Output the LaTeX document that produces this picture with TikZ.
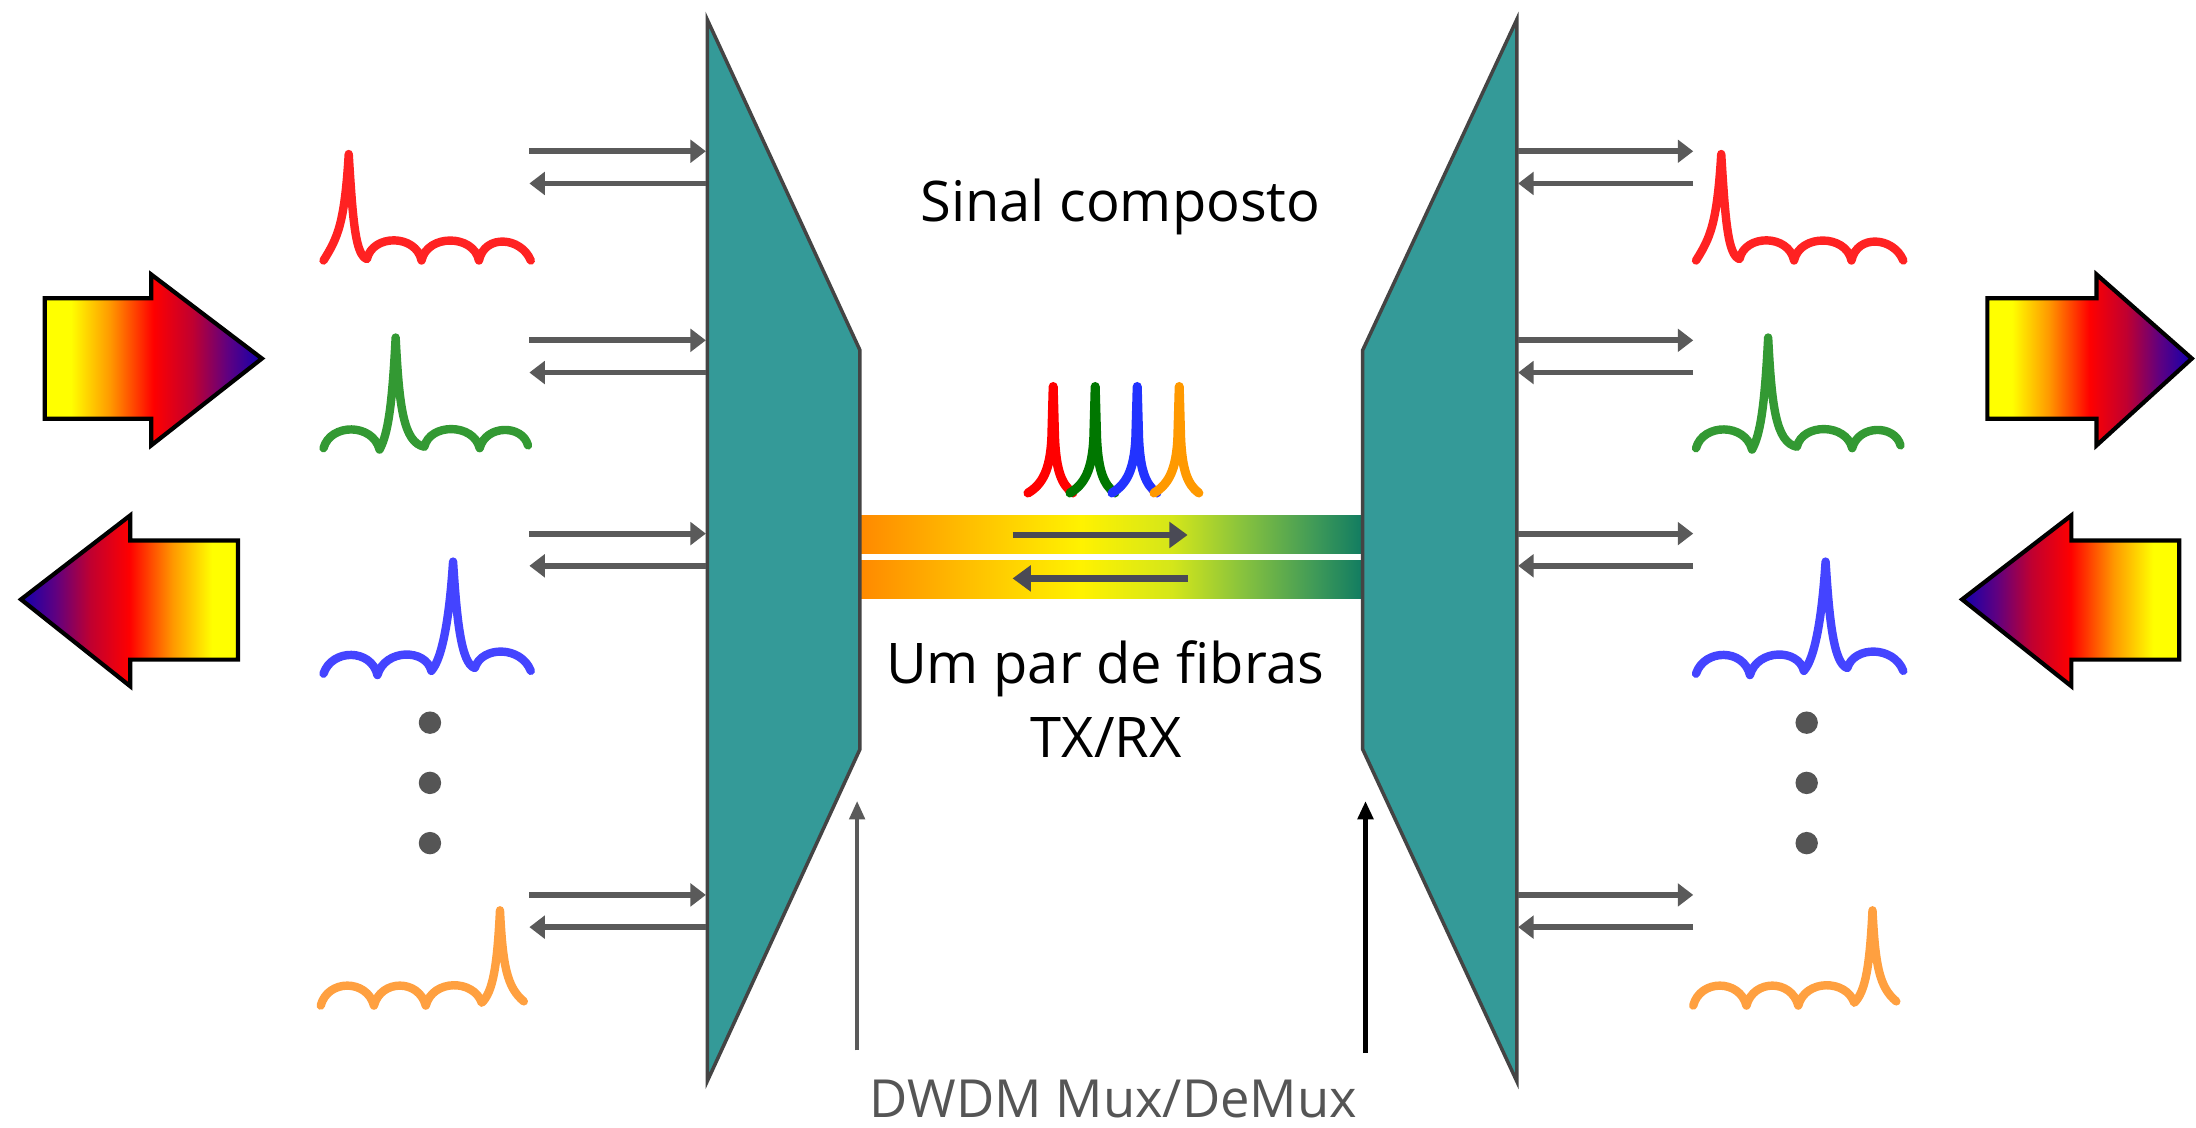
\documentclass[tikz,border=0pt]{standalone}
\usepackage{fontspec}
\setmainfont{Open Sans}
\usetikzlibrary{arrows.meta}
\definecolor{teal1}{HTML}{349A98}
\definecolor{trapedge}{HTML}{444444}
\definecolor{gray1}{HTML}{5A5A5A}
\definecolor{dotgray}{HTML}{555555}
\definecolor{dwgray}{HTML}{555555}
\definecolor{fibarrc}{HTML}{4A4A55}
\definecolor{sred}{HTML}{FF2222}
\definecolor{sgreen}{HTML}{339933}
\definecolor{sblue}{HTML}{4444FF}
\definecolor{sorange}{HTML}{FFA040}
\definecolor{cred}{HTML}{FF0000}
\definecolor{cgreen}{HTML}{007700}
\definecolor{cblue}{HTML}{2233FF}
\definecolor{corange}{HTML}{FF9900}
\definecolor{ay}{HTML}{FFFF00}
\definecolor{ao}{HTML}{FF9900}
\definecolor{ar}{HTML}{FF0000}
\definecolor{ac}{HTML}{C00030}
\definecolor{ap}{HTML}{600080}
\definecolor{an}{HTML}{1000B0}
\definecolor{f0}{HTML}{FF8800}
\definecolor{f1}{HTML}{FFC400}
\definecolor{f2}{HTML}{FFF200}
\definecolor{f3}{HTML}{D4E61A}
\definecolor{f4}{HTML}{86C23E}
\definecolor{f5}{HTML}{3F9A58}
\definecolor{f6}{HTML}{0E7A62}
\pgfdeclarehorizontalshading{bigarrow}{100bp}{color(0bp)=(ay); color(31bp)=(ay); color(40bp)=(ao); color(50bp)=(ar); color(59bp)=(ac); color(67bp)=(ap); color(75bp)=(an); color(100bp)=(an)}
\pgfdeclarehorizontalshading{fiber}{100bp}{color(0bp)=(f0); color(25bp)=(f0); color(37bp)=(f1); color(47bp)=(f2); color(56bp)=(f3); color(63bp)=(f4); color(70bp)=(f5); color(75bp)=(f6); color(100bp)=(f6)}
\newcommand\sigred{(231,186) .. controls (241,170) and (246,160) .. (249,110) .. controls (252,160) and (254,182) .. (262,185) .. controls (266,167) and (297,167) .. (301,186) .. controls (305,167) and (338,167) .. (342,186) .. controls (346,167) and (372,169) .. (379,186)}
\newcommand\siggreen{(231,320) .. controls (236,302) and (266,302) .. (271,321) .. controls (277,310) and (280,290) .. (282.5,241) .. controls (285,290) and (288,316) .. (303,319) .. controls (307,302) and (338,302) .. (342.5,320) .. controls (347,303) and (373,303) .. (377,318)}
\newcommand\sigblue{(231,481) .. controls (237,463) and (265,463) .. (269.5,482) .. controls (275,463) and (304,463) .. (308,479) .. controls (316,470) and (321,440) .. (323.5,401) .. controls (326,440) and (329,474) .. (339,477) .. controls (344,461) and (372,461) .. (379,479)}
\newcommand\sigorange{(229,718) .. controls (234,699) and (262,699) .. (267,718) .. controls (272,699) and (299,699) .. (304,718) .. controls (309,699) and (338,699) .. (344,716) .. controls (352,708) and (355,690) .. (357,650) .. controls (359,690) and (362,705) .. (374,715)}
\newcommand\cpk[2]{\draw[cps, draw=#2] (#1-18,352) .. controls (#1-8,346) and (#1-2,336) .. (#1-1,312) -- (#1,276) -- (#1+1,312) .. controls (#1+2,336) and (#1+6,346) .. (#1+14,352);}
\begin{document}
\begin{tikzpicture}[x=1pt,y=-1pt,
  sig/.style={line width=6pt, line cap=round, line join=round},
  cps/.style={line width=6.5pt, line cap=round, line join=round},
  small/.style={draw=gray1, line width=4.2pt, -{Triangle[length=11pt,width=16pt]}},
  fibarr/.style={draw=fibarrc, line width=4.5pt, -{Triangle[length=13pt,width=18pt]}},
  trap/.style={fill=teal1, draw=trapedge, line width=2.5pt, line join=miter},
  bigarr/.style={shade, shading=bigarrow, draw=black, line width=3pt, line join=miter},
  txt/.style={font=\fontsize{40}{48}\selectfont, inner sep=0pt},
  dot/.style={circle, fill=dotgray, minimum size=16pt, inner sep=0pt}]
\fill[white] (0,0) rectangle (1568,805);
\useasboundingbox (0,0) rectangle (1568,805);
% fibre pair
\shade[shading=fiber] (612,368) rectangle (975,395);
\shade[shading=fiber] (612,400) rectangle (975,427);
% mux / demux
\draw[trap] (505,14) -- (614,250) -- (614,535) -- (505,772) -- cycle;
\draw[trap] (1083,14) -- (973,250) -- (973,535) -- (1083,772) -- cycle;
% arrows in fibres
\coordinate (fa1) at (723,382); \coordinate (fb1) at (848,382);
\coordinate (fa2) at (848,413); \coordinate (fb2) at (723,413);
\draw[fibarr] (fa1) -- (fb1);
\draw[fibarr] (fa2) -- (fb2);
% composite peaks
\cpk{752}{cred}
\cpk{782}{cgreen}
\cpk{812}{cblue}
\cpk{842}{corange}
% small arrows
\foreach \y in {108,243,381,639}{
  \draw[small] (378,\y) -- (504,\y);
  \draw[small] (504,\y+23) -- (378,\y+23);
  \draw[small] (1084,\y) -- (1209,\y);
  \draw[small] (1209,\y+23) -- (1084,\y+23);
}
% signals
\draw[sig, draw=sred] \sigred;
\draw[sig, draw=sgreen] \siggreen;
\draw[sig, draw=sblue] \sigblue;
\draw[sig, draw=sorange] \sigorange;
\begin{scope}[xshift=980pt]
\draw[sig, draw=sred] \sigred;
\draw[sig, draw=sgreen] \siggreen;
\draw[sig, draw=sblue] \sigblue;
\draw[sig, draw=sorange] \sigorange;
\end{scope}
% dots
\node[dot] (d1) at (307,516) {};
\node[dot] (d2) at (307,559) {};
\node[dot] (d3) at (307,602) {};
\node[dot] (d4) at (1290,516) {};
\node[dot] (d5) at (1290,559) {};
\node[dot] (d6) at (1290,602) {};
% big arrows
\draw[bigarr] (32,213) -- (108,213) -- (108,196) -- (187,256) -- (108,318) -- (108,299) -- (32,299) -- cycle;
\draw[bigarr, shading angle=180] (15,428) -- (93,368) -- (93,386) -- (170,386) -- (170,471) -- (93,471) -- (93,490) -- cycle;
\draw[bigarr] (1419,213) -- (1497,213) -- (1497,196) -- (1565,256) -- (1497,318) -- (1497,299) -- (1419,299) -- cycle;
\draw[bigarr, shading angle=180] (1401,428) -- (1479,368) -- (1479,386) -- (1556,386) -- (1556,471) -- (1479,471) -- (1479,490) -- cycle;
% labels
\node[txt, anchor=base] (sc) at (800,158) {Sinal composto};
\node[txt, anchor=base] (par) at (789,488) {Um par de fibras};
\node[txt, anchor=base] (txrx) at (790,541) {TX/RX};
\node[txt, anchor=base, text=dwgray, font=\fontsize{37.5}{45}\selectfont] (dw) at (795,798) {DWDM Mux/DeMux};
% pointer arrows
\coordinate (pl0) at (612,750); \coordinate (pl1) at (612,572);
\coordinate (pr0) at (975,752); \coordinate (pr1) at (975,572);
\draw[draw=gray1, line width=2.5pt, -{Triangle[length=13pt,width=11pt]}] (pl0) -- (pl1);
\draw[draw=black, line width=3pt, -{Triangle[length=13pt,width=11pt]}] (pr0) -- (pr1);
\end{tikzpicture}
\end{document}
